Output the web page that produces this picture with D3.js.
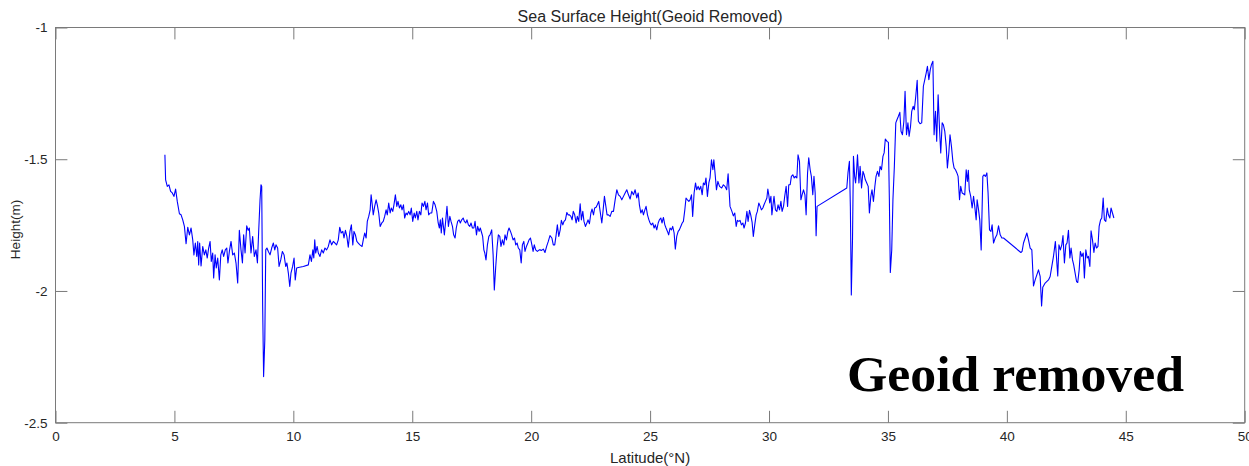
<!DOCTYPE html>
<html>
<head>
<meta charset="utf-8">
<script src="https://cdn.jsdelivr.net/npm/d3@7"></script>
<style>
  html, body { margin: 0; padding: 0; background: #ffffff; }
  svg { display: block; }
</style>
</head>
<body>
<svg id="chart" width="1249" height="466"></svg>
<script>
// Along-track sea surface height with the geoid removed
const latitude = [
  4.60,4.63,4.70,4.77,4.84,4.91,4.98,5.05,5.12,5.21,5.28,5.35,5.42,5.49,5.56,5.63,5.70,5.77,5.82,5.88,
  5.94,5.98,6.02,6.06,6.12,6.19,6.26,6.32,6.38,6.44,6.50,6.55,6.61,6.65,6.71,6.76,6.82,6.89,6.95,7.01,
  7.07,7.14,7.20,7.25,7.31,7.38,7.45,7.52,7.59,7.66,7.73,7.80,7.86,7.91,7.97,8.04,8.10,8.15,8.22,8.29,
  8.36,8.43,8.49,8.54,8.60,8.64,8.67,8.71,8.75,8.80,8.84,8.89,8.95,9.02,9.09,9.16,9.22,9.27,9.34,9.40,
  9.47,9.54,9.61,9.68,9.73,9.79,9.85,9.90,9.97,10.03,10.08,10.14,10.21,10.42,10.63,10.70,10.76,10.82,10.86,10.90,
  10.94,11.00,11.05,11.12,11.19,11.26,11.33,11.40,11.47,11.54,11.61,11.68,11.75,11.82,11.89,11.95,12.01,12.08,12.13,12.19,
  12.25,12.31,12.38,12.44,12.50,12.55,12.61,12.67,12.73,12.80,12.89,12.94,13.00,13.06,13.11,13.17,13.23,13.27,13.31,13.36,
  13.42,13.48,13.53,13.59,13.65,13.72,13.78,13.84,13.90,13.95,14.01,14.07,14.12,14.18,14.23,14.29,14.35,14.40,14.46,14.52,
  14.57,14.63,14.68,14.74,14.79,14.85,14.91,14.96,15.02,15.08,15.13,15.19,15.24,15.30,15.36,15.41,15.47,15.53,15.58,15.64,
  15.69,15.75,15.82,15.89,15.96,16.03,16.09,16.14,16.18,16.22,16.27,16.31,16.35,16.41,16.46,16.52,16.58,16.63,16.69,16.74,
  16.80,16.85,16.91,16.97,17.02,17.08,17.14,17.19,17.25,17.30,17.36,17.42,17.47,17.53,17.59,17.64,17.70,17.75,17.81,17.86,
  17.92,17.96,18.01,18.05,18.10,18.16,18.22,18.27,18.34,18.40,18.45,18.51,18.57,18.62,18.68,18.73,18.79,18.85,18.90,18.96,
  19.02,19.07,19.13,19.18,19.24,19.30,19.35,19.41,19.46,19.52,19.58,19.63,19.69,19.74,19.80,19.86,19.91,19.97,20.03,20.08,
  20.13,20.19,20.26,20.34,20.37,20.44,20.51,20.58,20.65,20.72,20.79,20.87,20.93,20.99,21.05,21.10,21.16,21.22,21.27,21.33,
  21.38,21.44,21.50,21.55,21.61,21.67,21.72,21.77,21.83,21.89,21.94,22.00,22.06,22.11,22.17,22.22,22.28,22.34,22.39,22.45,
  22.51,22.56,22.62,22.67,22.73,22.78,22.84,22.90,22.97,23.02,23.08,23.14,23.19,23.25,23.32,23.39,23.46,23.53,23.60,23.67,
  23.74,23.81,23.88,23.95,24.02,24.09,24.16,24.23,24.30,24.37,24.44,24.50,24.55,24.61,24.67,24.72,24.78,24.83,24.89,24.95,
  25.00,25.05,25.11,25.17,25.22,25.28,25.34,25.39,25.45,25.50,25.56,25.62,25.67,25.73,25.78,25.84,25.90,25.95,26.01,26.06,
  26.12,26.18,26.23,26.29,26.35,26.40,26.46,26.51,26.57,26.63,26.68,26.74,26.79,26.85,26.91,26.96,27.02,27.07,27.13,27.19,
  27.24,27.30,27.35,27.41,27.47,27.52,27.58,27.64,27.68,27.73,27.79,27.85,27.92,28.01,28.08,28.15,28.22,28.28,28.32,28.36,
  28.44,28.50,28.56,28.62,28.67,28.73,28.78,28.84,28.90,28.95,29.01,29.07,29.12,29.18,29.23,29.29,29.34,29.40,29.46,29.51,
  29.57,29.63,29.68,29.74,29.79,29.85,29.91,29.95,29.99,30.03,30.08,30.12,30.16,30.21,30.27,30.33,30.38,30.44,30.50,30.55,
  30.61,30.66,30.72,30.78,30.83,30.89,30.94,31.00,31.06,31.11,31.17,31.22,31.28,31.34,31.39,31.45,31.51,31.56,31.62,31.67,
  31.73,31.78,31.84,31.89,31.94,31.98,32.02,33.27,33.32,33.38,33.42,33.46,33.51,33.55,33.60,33.64,33.68,33.72,33.78,33.83,
  33.89,33.95,34.00,34.05,34.11,34.17,34.22,34.28,34.33,34.39,34.45,34.50,34.56,34.62,34.67,34.73,34.79,34.84,34.89,34.96,
  35.02,35.06,35.10,35.16,35.21,35.27,35.33,35.38,35.44,35.50,35.55,35.61,35.67,35.72,35.78,35.84,35.89,35.95,36.00,36.06,
  36.11,36.17,36.23,36.28,36.35,36.42,36.49,36.55,36.61,36.66,36.72,36.78,36.83,36.89,36.94,37.00,37.05,37.11,37.17,37.22,
  37.28,37.33,37.39,37.45,37.50,37.56,37.61,37.67,37.73,37.78,37.84,37.90,37.95,38.01,38.06,38.12,38.17,38.23,38.29,38.34,
  38.38,38.42,38.48,38.54,38.60,38.65,38.71,38.75,38.81,38.86,38.92,38.99,39.04,39.10,39.16,39.21,39.27,39.33,39.38,39.44,
  39.51,39.58,39.65,39.72,39.79,39.86,40.59,40.64,40.70,40.77,40.84,40.91,40.98,41.05,41.12,41.19,41.26,41.33,41.40,41.46,
  41.51,41.61,41.75,41.82,41.89,41.96,42.04,42.14,42.19,42.25,42.31,42.36,42.42,42.48,42.53,42.59,42.65,42.70,42.76,42.81,
  42.87,42.93,42.98,43.04,43.09,43.15,43.21,43.26,43.32,43.38,43.43,43.49,43.54,43.60,43.66,43.71,43.77,43.83,43.88,43.94,
  43.99,44.05,44.10,44.16,44.22,44.27,44.33,44.38,44.44,44.50
];

const heightM = [
  -1.483,-1.578,-1.603,-1.597,-1.622,-1.628,-1.641,-1.613,-1.660,-1.707,-1.711,-1.730,-1.755,-1.821,-1.758,-1.787,-1.761,-1.806,-1.863,-1.818,
  -1.869,-1.812,-1.901,-1.818,-1.905,-1.831,-1.863,-1.844,-1.875,-1.837,-1.812,-1.888,-1.856,-1.951,-1.863,-1.913,-1.875,-1.958,-1.863,-1.844,
  -1.869,-1.844,-1.837,-1.894,-1.850,-1.812,-1.863,-1.856,-1.894,-1.970,-1.770,-1.844,-1.894,-1.787,-1.856,-1.753,-1.770,-1.761,-1.856,-1.793,
  -1.869,-1.844,-1.894,-1.780,-1.654,-1.597,-1.603,-2.059,-2.325,-2.186,-1.844,-1.837,-1.850,-1.863,-1.837,-1.818,-1.844,-1.825,-1.837,-1.907,
  -1.882,-1.850,-1.863,-1.907,-1.894,-1.932,-1.983,-1.932,-1.907,-1.875,-1.958,-1.913,-1.911,-1.907,-1.901,-1.863,-1.888,-1.844,-1.875,-1.806,
  -1.856,-1.831,-1.856,-1.869,-1.844,-1.856,-1.837,-1.844,-1.831,-1.806,-1.825,-1.812,-1.818,-1.825,-1.806,-1.758,-1.780,-1.774,-1.799,-1.770,
  -1.793,-1.834,-1.774,-1.749,-1.825,-1.774,-1.787,-1.812,-1.818,-1.825,-1.831,-1.806,-1.780,-1.799,-1.736,-1.717,-1.692,-1.635,-1.666,-1.711,
  -1.679,-1.654,-1.673,-1.704,-1.755,-1.742,-1.736,-1.717,-1.692,-1.711,-1.666,-1.704,-1.685,-1.698,-1.673,-1.635,-1.679,-1.660,-1.685,-1.673,
  -1.692,-1.673,-1.723,-1.704,-1.711,-1.698,-1.711,-1.685,-1.736,-1.704,-1.723,-1.698,-1.730,-1.698,-1.711,-1.666,-1.679,-1.660,-1.692,-1.666,
  -1.711,-1.704,-1.704,-1.660,-1.673,-1.698,-1.742,-1.761,-1.730,-1.780,-1.723,-1.755,-1.787,-1.730,-1.679,-1.755,-1.717,-1.736,-1.755,-1.787,
  -1.799,-1.761,-1.736,-1.730,-1.742,-1.730,-1.723,-1.736,-1.742,-1.730,-1.749,-1.755,-1.742,-1.761,-1.761,-1.736,-1.787,-1.755,-1.774,-1.761,
  -1.780,-1.793,-1.844,-1.856,-1.882,-1.825,-1.793,-1.787,-1.768,-1.863,-1.996,-1.907,-1.831,-1.787,-1.793,-1.831,-1.806,-1.825,-1.787,-1.806,
  -1.774,-1.761,-1.774,-1.787,-1.806,-1.799,-1.825,-1.818,-1.837,-1.844,-1.894,-1.825,-1.812,-1.850,-1.831,-1.818,-1.806,-1.799,-1.825,-1.850,
  -1.825,-1.844,-1.850,-1.844,-1.844,-1.846,-1.841,-1.854,-1.831,-1.812,-1.790,-1.799,-1.825,-1.825,-1.787,-1.749,-1.793,-1.768,-1.732,-1.749,
  -1.736,-1.730,-1.702,-1.711,-1.711,-1.717,-1.730,-1.698,-1.711,-1.742,-1.717,-1.736,-1.669,-1.730,-1.698,-1.736,-1.755,-1.742,-1.730,-1.745,
  -1.704,-1.689,-1.711,-1.685,-1.682,-1.673,-1.660,-1.698,-1.742,-1.698,-1.641,-1.679,-1.711,-1.711,-1.717,-1.698,-1.698,-1.654,-1.616,-1.635,
  -1.641,-1.654,-1.641,-1.628,-1.616,-1.635,-1.651,-1.622,-1.635,-1.616,-1.647,-1.628,-1.673,-1.704,-1.692,-1.711,-1.692,-1.679,-1.711,-1.730,
  -1.742,-1.749,-1.742,-1.761,-1.749,-1.768,-1.742,-1.730,-1.723,-1.742,-1.721,-1.749,-1.761,-1.774,-1.787,-1.761,-1.768,-1.755,-1.780,-1.841,
  -1.793,-1.774,-1.768,-1.755,-1.742,-1.736,-1.692,-1.647,-1.654,-1.660,-1.654,-1.635,-1.717,-1.628,-1.590,-1.616,-1.603,-1.616,-1.603,-1.635,
  -1.590,-1.597,-1.571,-1.641,-1.590,-1.571,-1.502,-1.540,-1.502,-1.552,-1.616,-1.584,-1.603,-1.609,-1.597,-1.603,-1.616,-1.555,-1.616,-1.679,
  -1.698,-1.715,-1.704,-1.755,-1.732,-1.736,-1.732,-1.749,-1.742,-1.761,-1.742,-1.698,-1.736,-1.694,-1.711,-1.740,-1.793,-1.749,-1.711,-1.698,
  -1.666,-1.679,-1.692,-1.685,-1.673,-1.660,-1.647,-1.613,-1.635,-1.666,-1.641,-1.711,-1.679,-1.641,-1.692,-1.698,-1.673,-1.692,-1.660,-1.698,
  -1.679,-1.641,-1.603,-1.679,-1.597,-1.597,-1.565,-1.559,-1.571,-1.565,-1.571,-1.483,-1.508,-1.654,-1.635,-1.616,-1.635,-1.711,-1.552,-1.495,
  -1.540,-1.565,-1.635,-1.565,-1.628,-1.790,-1.679,-1.609,-1.552,-1.508,-1.679,-2.015,-1.806,-1.489,-1.565,-1.590,-1.546,-1.483,-1.590,-1.527,
  -1.609,-1.546,-1.559,-1.578,-1.590,-1.603,-1.704,-1.641,-1.616,-1.660,-1.603,-1.565,-1.546,-1.565,-1.527,-1.540,-1.489,-1.476,-1.423,-1.432,
  -1.436,-1.654,-1.930,-1.844,-1.654,-1.527,-1.362,-1.350,-1.337,-1.322,-1.394,-1.407,-1.356,-1.242,-1.407,-1.362,-1.413,-1.375,-1.318,-1.299,
  -1.312,-1.261,-1.200,-1.356,-1.365,-1.362,-1.223,-1.198,-1.172,-1.147,-1.198,-1.160,-1.141,-1.128,-1.407,-1.318,-1.432,-1.255,-1.388,-1.476,
  -1.362,-1.369,-1.394,-1.451,-1.533,-1.476,-1.407,-1.451,-1.508,-1.533,-1.540,-1.552,-1.565,-1.654,-1.603,-1.628,-1.631,-1.635,-1.540,-1.584,
  -1.542,-1.616,-1.641,-1.685,-1.641,-1.679,-1.730,-1.654,-1.692,-1.730,-1.844,-1.565,-1.559,-1.565,-1.552,-1.628,-1.768,-1.774,-1.749,-1.818,
  -1.799,-1.787,-1.753,-1.787,-1.799,-1.799,-1.854,-1.850,-1.818,-1.799,-1.780,-1.806,-1.837,-1.844,-1.981,-1.958,-1.939,-1.920,-1.945,-2.057,
  -1.986,-1.970,-1.958,-1.945,-1.907,-1.869,-1.812,-1.943,-1.825,-1.844,-1.825,-1.790,-1.894,-1.825,-1.818,-1.770,-1.875,-1.837,-1.882,-1.901,
  -1.932,-1.964,-1.968,-1.920,-1.850,-1.869,-1.856,-1.951,-1.844,-1.875,-1.869,-1.907,-1.772,-1.806,-1.854,-1.818,-1.837,-1.831,-1.755,-1.730,
  -1.723,-1.647,-1.730,-1.736,-1.685,-1.711,-1.723,-1.685,-1.704,-1.723
];

const xTicks = [0, 5, 10, 15, 20, 25, 30, 35, 40, 45, 50];
const yTicks = [-2.5, -2, -1.5, -1];

const titleText = "Sea Surface Height(Geoid Removed)";
const xLabelText = "Latitude(°N)";
const yLabelText = "Height(m)";
const noteText = "Geoid removed";

const svg = d3.select("#chart");
const W = 1249, H = 466;
const margin = { left: 55.5, right: 4.3, top: 27.5, bottom: 43.3 };
const plotW = W - margin.left - margin.right;
const plotH = H - margin.top - margin.bottom;
const tickLen = 11.9;
const axisColor = "#7a7a7a";
const textColor = "#262626";
const fontFamily = "'Liberation Sans', Arial, Helvetica, sans-serif";

const x = d3.scaleLinear().domain([0, 50]).range([0, plotW]);
const y = d3.scaleLinear().domain([-2.5, -1]).range([plotH, 0]);

const g = svg.append("g").attr("transform", `translate(${margin.left},${margin.top})`);

// Axes with inward ticks on all four sides
function styleAxis(sel, showText) {
  sel.select(".domain").remove();
  sel.selectAll(".tick line").attr("stroke", axisColor).attr("stroke-width", 1);
  sel.selectAll(".tick text")
    .attr("fill", textColor)
    .style("font-family", fontFamily)
    .style("font-size", "13.5px");
  if (!showText) sel.selectAll(".tick text").remove();
}

g.append("g")
  .attr("transform", `translate(0,${plotH})`)
  .call(d3.axisBottom(x).tickValues(xTicks).tickSizeInner(-tickLen).tickSizeOuter(0).tickPadding(9).tickFormat(d => String(d)))
  .call(s => styleAxis(s, true));

g.append("g")
  .call(d3.axisTop(x).tickValues(xTicks).tickSizeInner(-tickLen).tickSizeOuter(0))
  .call(s => styleAxis(s, false));

g.append("g")
  .call(d3.axisLeft(y).tickValues(yTicks).tickSizeInner(-tickLen).tickSizeOuter(0).tickPadding(8).tickFormat(d => String(d)))
  .call(s => styleAxis(s, true));

g.append("g")
  .attr("transform", `translate(${plotW},0)`)
  .call(d3.axisRight(y).tickValues(yTicks).tickSizeInner(-tickLen).tickSizeOuter(0))
  .call(s => styleAxis(s, false));

// Plot box
g.append("rect")
  .attr("x", 0).attr("y", 0)
  .attr("width", plotW).attr("height", plotH)
  .attr("fill", "none")
  .attr("stroke", axisColor)
  .attr("stroke-width", 1);

// Sea surface height profile
const points = latitude.map((lat, i) => [lat, heightM[i]]);
const line = d3.line().x(d => x(d[0])).y(d => y(d[1]));

g.append("path")
  .datum(points)
  .attr("d", line)
  .attr("fill", "none")
  .attr("stroke", "#0000ff")
  .attr("stroke-width", 1.1)
  .attr("stroke-linejoin", "round");

// Title and axis labels
svg.append("text")
  .attr("x", margin.left + plotW / 2)
  .attr("y", 21.5)
  .attr("text-anchor", "middle")
  .attr("fill", textColor)
  .style("font-family", fontFamily)
  .style("font-size", "16px")
  .text(titleText);

svg.append("text")
  .attr("x", margin.left + plotW / 2)
  .attr("y", 463)
  .attr("text-anchor", "middle")
  .attr("fill", textColor)
  .style("font-family", fontFamily)
  .style("font-size", "15px")
  .text(xLabelText);

svg.append("text")
  .attr("transform", "translate(19.5,229.5) rotate(-90)")
  .attr("text-anchor", "middle")
  .attr("fill", textColor)
  .style("font-family", fontFamily)
  .style("font-size", "13.5px")
  .text(yLabelText);

// Annotation inside the plot
svg.append("text")
  .attr("x", 847)
  .attr("y", 391)
  .attr("fill", "#000000")
  .attr("textLength", 337)
  .attr("lengthAdjust", "spacingAndGlyphs")
  .style("font-family", "'Liberation Serif', 'Times New Roman', serif")
  .style("font-weight", "bold")
  .style("font-size", "50px")
  .text(noteText);
</script>
</body>
</html>
